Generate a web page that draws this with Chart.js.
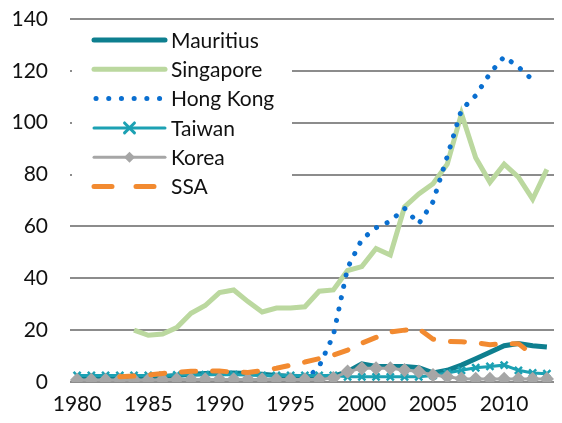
<!DOCTYPE html>
<html>
<head>
<meta charset="utf-8">
<script src="https://cdn.jsdelivr.net/npm/chart.js@4/dist/chart.umd.min.js"></script>
<style>
  html, body { margin: 0; padding: 0; background: #ffffff; }
  #wrap { position: relative; width: 562px; height: 423px; }
</style>
</head>
<body>
<div id="wrap"><canvas id="chart"></canvas></div>
<script>
// years on the x axis
var years = [];
for (var y = 1980; y <= 2013; y++) years.push(String(y));

var yMin = 0, yMax = 140, yStep = 20;

// series, 1980 .. 2013
var mauritius = [1.8, 1.8, 1.8, 1.8, 1.8, 1.8, 2, 2.5, 3, 3.3, 3.5, 3.5, 3.3, 3, 2.5, 2.2, 2, 2, 2.2, 4,
                 7, 6, 6, 6, 5.5, 3.5, 4.5, 6.5, 9, 11.5, 14, 14.8, 14, 13.5];
var singapore = [null, null, null, null, 20, 18, 18.5, 21, 26.5, 29.5, 34.5, 35.5, 31, 27, 28.5, 28.5, 29, 35, 35.5, 43,
                 44.5, 51.5, 49, 67.5, 72.5, 76.5, 84, 103.5, 86.5, 77, 84, 79, 70.5, 82];
var hongKong = [null, null, null, null, null, null, null, null, null, null, null, null, null, null, null, null, 0.5, 6, 18, 44,
                55, 59.5, 62, 67, 61, 69.5, 87, 105, 110.5, 119, 125.5, 121.5, 116.5, null];
var taiwan = [2.5, 2.5, 2.5, 2.5, 2.5, 2.5, 2.5, 2.7, 2.8, 2.8, 2.8, 2.8, 2.7, 2.5, 2.5, 2.5, 2.5, 2.5, 2.5, 2,
              2, 2, 2, 2, 2, 2.5, 3.5, 4.5, 5.5, 6, 6.5, 4.5, 3.5, 3.2];
var korea = [0.8, 0.8, 0.8, 0.8, 0.8, 0.8, 0.9, 1, 1, 1, 1, 1, 1, 1, 1, 1, 1, 1, 1.5, 4,
             5.3, 5.3, 5.3, 4.6, 4, 2.7, 2, 1.3, 1.2, 1.2, 1.2, 1.2, 1.2, 1.2];
var ssa = [null, null, null, 2, 2.3, 2.7, 3.3, 3.7, 4.1, 4.2, 4.2, 3.8, 3.7, 4.4, 5.3, 6.5, 7.7, 9, 10.4, 12.3,
           15, 17.2, 19.3, 20, 20.5, 16.5, 15.7, 15.5, 15.2, 14.4, 14.8, 14.8, 10.5, null];

var FONT = 'Lato, "Open Sans", sans-serif';

var datasets = [
  { label: 'Mauritius', data: mauritius, borderColor: '#0e7f8f', borderWidth: 5, pointRadius: 0, order: 5 },
  { label: 'Singapore', data: singapore, borderColor: '#bbd89f', borderWidth: 5, pointRadius: 0, order: 4 },
  { label: 'Hong Kong', data: hongKong, borderColor: '#0a6fd0', borderWidth: 5, borderDash: [0.1, 11.5],
    borderCapStyle: 'round', pointRadius: 0, order: 3 },
  { label: 'Taiwan', data: taiwan, borderColor: '#1ca1b3', borderWidth: 3, pointStyle: 'crossRot',
    pointRadius: 5, pointBorderWidth: 2.5, pointBorderColor: '#1ca1b3', order: 2 },
  { label: 'Korea', data: korea, borderColor: '#a6a6a6', borderWidth: 3, pointStyle: 'rectRot',
    pointRadius: 5, pointBackgroundColor: '#a6a6a6', pointBorderColor: '#a6a6a6', order: 1 },
  { label: 'SSA', data: ssa, borderColor: '#f28a30', borderWidth: 5, borderDash: [14, 17],
    borderCapStyle: 'round', pointRadius: 0, order: 0 }
];
datasets.forEach(function (d) {
  d.fill = false;
  d.tension = 0;
  d.backgroundColor = d.borderColor;
});

// legend drawn as a column in the upper left of the plot, on a white box
var sideLegend = {
  id: 'sideLegend',
  afterDatasetsDraw: function (chart) {
    var ctx = chart.ctx;
    var x0 = 94, x1 = 165, tx = 171, top = 40, step = 29.3;
    var cx = (x0 + x1) / 2;
    ctx.save();
    ctx.fillStyle = '#ffffff';
    ctx.fillRect(72, 27, 220, 176);
    ctx.restore();
    chart.data.datasets.forEach(function (d, i) {
      var yy = top + i * step;
      ctx.save();
      ctx.strokeStyle = d.borderColor;
      ctx.lineWidth = d.borderWidth;
      ctx.lineCap = 'round';
      if (d.label === 'SSA') ctx.setLineDash([18, 24]);
      else if (d.label === 'Hong Kong') ctx.setLineDash([0.1, 12.6]);
      else ctx.setLineDash([]);
      ctx.beginPath();
      ctx.moveTo(d.label === 'Hong Kong' ? x0 + 2 : x0, yy);
      ctx.lineTo(x1, yy);
      ctx.stroke();
      ctx.setLineDash([]);
      if (d.pointRadius) {
        var r = d.pointRadius + 0.5;
        ctx.fillStyle = d.borderColor;
        ctx.beginPath();
        if (d.pointStyle === 'crossRot') {
          var o = r * 0.9;
          ctx.moveTo(cx - o, yy - o); ctx.lineTo(cx + o, yy + o);
          ctx.moveTo(cx + o, yy - o); ctx.lineTo(cx - o, yy + o);
          ctx.lineWidth = 3;
          ctx.stroke();
        } else {
          ctx.moveTo(cx, yy - r); ctx.lineTo(cx + r, yy); ctx.lineTo(cx, yy + r); ctx.lineTo(cx - r, yy);
          ctx.closePath();
          ctx.fill();
        }
      }
      ctx.fillStyle = '#111111';
      ctx.font = '21px ' + FONT;
      ctx.textBaseline = 'middle';
      ctx.textAlign = 'left';
      ctx.fillText(d.label, tx, yy + 1);
      ctx.restore();
    });
  }
};

new Chart(document.getElementById('chart'), {
  type: 'line',
  data: { labels: years, datasets: datasets },
  plugins: [sideLegend],
  options: {
    responsive: true,
    maintainAspectRatio: false,
    animation: false,
    layout: { padding: { top: 19, right: 1, left: 0, bottom: 0 } },
    plugins: {
      legend: { display: false },
      tooltip: { enabled: false }
    },
    scales: {
      x: {
        offset: true,
        grid: { display: false, drawTicks: false },
        border: { display: false },
        afterFit: function (s) { s.height = 41; s.paddingLeft = 0; s.paddingRight = 0; },
        ticks: {
          autoSkip: false,
          maxRotation: 0,
          padding: 10,
          color: '#111111',
          font: { family: FONT, size: 21 },
          callback: function (v, i) { var l = years[i]; return (+l % 5 === 0) ? l : ''; }
        }
      },
      y: {
        min: yMin,
        max: yMax,
        afterFit: function (s) { s.width = 70; s.paddingTop = 0; s.paddingBottom = 0; },
        grid: { color: '#8c8c8c', lineWidth: 2, drawTicks: false },
        border: { display: false },
        ticks: {
          stepSize: yStep,
          padding: 22,
          color: '#111111',
          font: { family: FONT, size: 21 }
        }
      }
    }
  }
});
</script>
</body>
</html>
